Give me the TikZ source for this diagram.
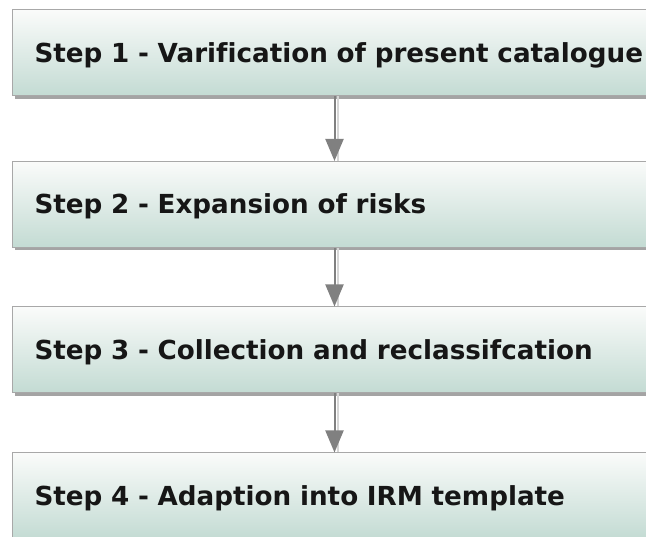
\documentclass[tikz,border=0pt]{standalone}
\usepackage{fontspec}
\setmainfont{DejaVu Sans}[Ligatures=NoCommon]
\usetikzlibrary{arrows.meta,shadows}

\definecolor{boxtop}{RGB}{250,251,250}
\definecolor{boxbottom}{RGB}{195,219,211}
\definecolor{boxline}{RGB}{168,168,168}
\definecolor{linkgray}{RGB}{128,128,128}
\definecolor{linkshade}{RGB}{214,214,214}
\definecolor{steptext}{RGB}{22,22,22}

\tikzset{
  stepbox/.style={
    rectangle, draw=boxline, line width=1pt, anchor=west,
    top color=boxtop, bottom color=boxbottom,
    minimum width=690pt, minimum height=86pt,
    text width=646pt, align=left, inner xsep=22pt,
    text height=19pt, text depth=0pt,
    font=\fontsize{26.2}{30}\selectfont\bfseries, text=steptext,
    drop shadow={shadow xshift=2pt, shadow yshift=-3pt,
                 fill=black!65, opacity=0.55}
  },
  link/.style={
    draw=linkgray, line width=2pt,
    -{Triangle[width=18pt,length=22pt]},
    preaction={draw=linkshade, line width=2pt, -, transform canvas={xshift=3pt}}
  }
}

\begin{document}
\begin{tikzpicture}[x=1pt,y=-1pt]
  \useasboundingbox (0,0) rectangle (646,537);
  \clip (0,0) rectangle (646,537);

  % the four process steps, running off the right edge
  \node[stepbox] (s1) at (12,53)    {Step 1 - Varification of present catalogue};
  \node[stepbox] (s2) at (12,204.5) {Step 2 - Expansion of risks};
  \node[stepbox] (s3) at (12,350)   {Step 3 - Collection and reclassifcation};
  \node[stepbox] (s4) at (12,496)   {Step 4 - Adaption into IRM template};

  % downward links between consecutive steps
  \draw[link] ([xshift=-23pt]s1.south) -- ([xshift=-23pt]s2.north);
  \draw[link] ([xshift=-23pt]s2.south) -- ([xshift=-23pt]s3.north);
  \draw[link] ([xshift=-23pt]s3.south) -- ([xshift=-23pt]s4.north);
\end{tikzpicture}
\end{document}
